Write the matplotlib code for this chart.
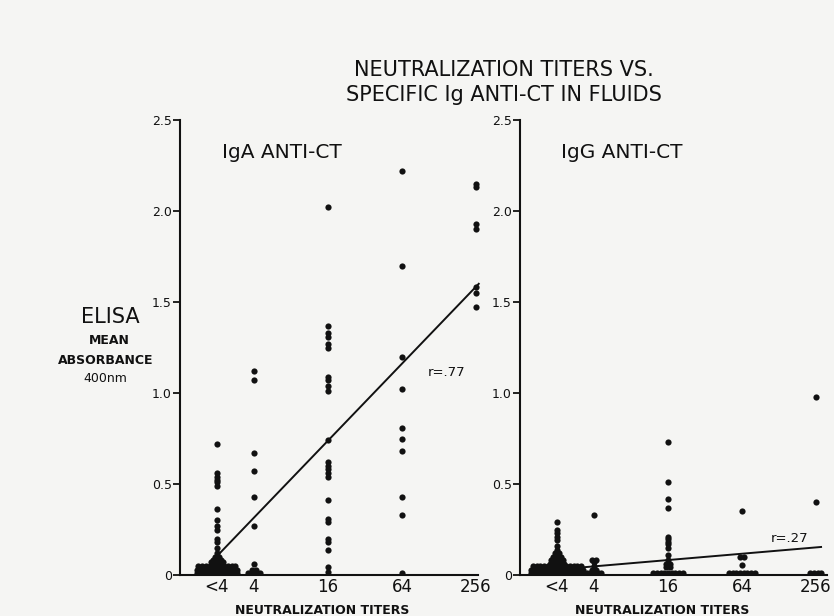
import matplotlib
matplotlib.use("Agg")
import matplotlib.pyplot as plt

# ---------------- data ----------------
titer_pos = [2, 4, 16, 64, 256]            # "<4" drawn at titer 2
titer_labels = ["<4", "4", "16", "64", "256"]

# IgA anti-CT : mean absorbance values per titer column, with count of
# overlapping (side-by-side) dots at each value
iga_lt4_vals = [0.72, 0.56, 0.54, 0.52, 0.51, 0.49, 0.36, 0.30, 0.27, 0.25,
                0.20, 0.18, 0.15, 0.12, 0.10, 0.08, 0.07, 0.05, 0.03, 0.01]
iga_lt4_cnt = [1, 1, 1, 1, 1, 1, 1, 1, 1, 1,
               1, 1, 1, 1, 2, 3, 4, 11, 12, 12]
iga_4_vals = [1.12, 1.07, 0.67, 0.57, 0.43, 0.27, 0.06, 0.025, 0.01]
iga_4_cnt = [1, 1, 1, 1, 1, 1, 1, 2, 4]
iga_16_vals = [2.02, 1.37, 1.33, 1.31, 1.27, 1.25, 1.09, 1.07, 1.04, 1.01,
               0.74, 0.62, 0.60, 0.58, 0.56, 0.54, 0.41, 0.31, 0.29, 0.20,
               0.18, 0.14, 0.045, 0.015]
iga_64_vals = [2.22, 1.70, 1.20, 1.02, 0.81, 0.75, 0.68, 0.43, 0.33, 0.01]
iga_256_vals = [2.15, 2.13, 1.93, 1.90, 1.58, 1.55, 1.47]

# IgG anti-CT
igg_lt4_vals = [0.29, 0.25, 0.23, 0.21, 0.19, 0.16, 0.14, 0.12, 0.10, 0.08,
                0.06, 0.05, 0.03, 0.01]
igg_lt4_cnt = [1, 1, 1, 1, 1, 1, 1, 2, 3, 4, 5, 14, 15, 15]
igg_4_vals = [0.33, 0.08, 0.07, 0.05, 0.03, 0.01]
igg_4_cnt = [1, 2, 1, 1, 2, 5]
igg_16_vals = [0.73, 0.51, 0.42, 0.37, 0.21, 0.20, 0.18, 0.17, 0.15, 0.11,
               0.08, 0.06, 0.045, 0.01]
igg_16_cnt = [1, 1, 1, 1, 1, 1, 1, 1, 1, 1, 1, 2, 2, 9]
igg_64_vals = [0.35, 0.10, 0.055, 0.01]
igg_64_cnt = [1, 2, 1, 8]
igg_256_vals = [0.98, 0.40, 0.01]
igg_256_cnt = [1, 1, 4]

# regression lines (end points: titer, absorbance)
iga_fit_titer = [1.93, 270.0]
iga_fit_val = [0.093, 1.60]
iga_r = "r=.77"
igg_fit_titer = [2.0, 282.0]
igg_fit_val = [0.03, 0.154]
igg_r = "r=.27"

# ---------------- style ----------------
bg = "#f5f5f3"
ink = "#111111"
plt.rcParams["font.family"] = ["DejaVu Sans"]

fig = plt.figure(figsize=(8.34, 6.16), dpi=100, facecolor=bg)
W, H = 834.0, 616.0
axL = fig.add_axes([180 / W, 1 - 575 / H, 307 / W, 455 / H])
axR = fig.add_axes([520 / W, 1 - 575 / H, 307 / W, 455 / H])

step = 0.10  # horizontal spacing of overlapping dots (log2 units)


def draw_column(ax, titer, vals, counts=None):
    if counts is None:
        counts = [1] * len(vals)
    xs, ys = [], []
    for v, n in zip(vals, counts):
        for i in range(n):
            off = (i - (n - 1) / 2.0) * step
            xs.append(titer * 2 ** off)
            ys.append(v)
    ax.scatter(xs, ys, s=20, c=ink, linewidths=0, zorder=3)


def style_axes(ax, right_end):
    ax.set_facecolor(bg)
    ax.set_xscale("log", base=2)
    ax.set_xlim(2 ** 0, 2 ** 8.3)
    ax.set_ylim(0, 2.5)
    for s in ["top", "right"]:
        ax.spines[s].set_visible(False)
    for s in ["left", "bottom"]:
        ax.spines[s].set_linewidth(1.5)
        ax.spines[s].set_color(ink)
    ax.spines["bottom"].set_bounds(2 ** 0, right_end)
    ax.set_xticks(titer_pos)
    ax.set_xticklabels(titer_labels)
    ax.xaxis.set_minor_locator(matplotlib.ticker.NullLocator())
    ax.tick_params(axis="x", length=0, pad=2, labelsize=12, colors=ink)
    ax.set_yticks([0, 0.5, 1.0, 1.5, 2.0, 2.5])
    ax.set_yticklabels(["0", "0.5", "1.0", "1.5", "2.0", "2.5"])
    ax.tick_params(axis="y", direction="out", length=5, width=1.3, pad=1,
                   labelsize=9, colors=ink)
    ax.set_xlabel("NEUTRALIZATION TITERS", fontsize=9, fontweight="bold",
                  color=ink)
    ax.xaxis.set_label_coords(0.462, -0.064)


style_axes(axL, 2 ** 8.05)
style_axes(axR, 2 ** 8.3)

# left panel: IgA
draw_column(axL, titer_pos[0], iga_lt4_vals, iga_lt4_cnt)
draw_column(axL, titer_pos[1], iga_4_vals, iga_4_cnt)
draw_column(axL, titer_pos[2], iga_16_vals)
draw_column(axL, titer_pos[3], iga_64_vals)
draw_column(axL, titer_pos[4], iga_256_vals)
axL.plot(iga_fit_titer, iga_fit_val, color=ink, lw=1.4, zorder=2)
axL.text(2 ** 7.22, 1.115, iga_r, fontsize=9.5, ha="center", va="center",
         color=ink)
axL.text(2 ** 1.14, 2.32, "IgA ANTI-CT", fontsize=14.5, ha="left",
         va="center", color=ink)

# right panel: IgG
draw_column(axR, titer_pos[0], igg_lt4_vals, igg_lt4_cnt)
draw_column(axR, titer_pos[1], igg_4_vals, igg_4_cnt)
draw_column(axR, titer_pos[2], igg_16_vals, igg_16_cnt)
draw_column(axR, titer_pos[3], igg_64_vals, igg_64_cnt)
draw_column(axR, titer_pos[4], igg_256_vals, igg_256_cnt)
axR.plot(igg_fit_titer, igg_fit_val, color=ink, lw=1.4, zorder=2)
axR.text(2 ** 7.3, 0.20, igg_r, fontsize=9.5, ha="center", va="center",
         color=ink)
axR.text(2 ** 1.1, 2.32, "IgG ANTI-CT", fontsize=14.5, ha="left",
         va="center", color=ink)

# titles and y label block
fig.text(504 / W, 1 - 70 / H, "NEUTRALIZATION TITERS VS.", fontsize=15,
         ha="center", va="center", color=ink)
fig.text(504 / W, 1 - 95 / H, "SPECIFIC Ig ANTI-CT IN FLUIDS", fontsize=15,
         ha="center", va="center", color=ink)
fig.text(110 / W, 1 - 317 / H, "ELISA", fontsize=15, ha="center",
         va="center", color=ink)
fig.text(109 / W, 1 - 340 / H, "MEAN", fontsize=9, fontweight="bold",
         ha="center", va="center", color=ink)
fig.text(106 / W, 1 - 360 / H, "ABSORBANCE", fontsize=9, fontweight="bold",
         ha="center", va="center", color=ink)
fig.text(105 / W, 1 - 378 / H, "400nm", fontsize=9, ha="center",
         va="center", color=ink)

fig.savefig("out.png", dpi=100, facecolor=bg)
